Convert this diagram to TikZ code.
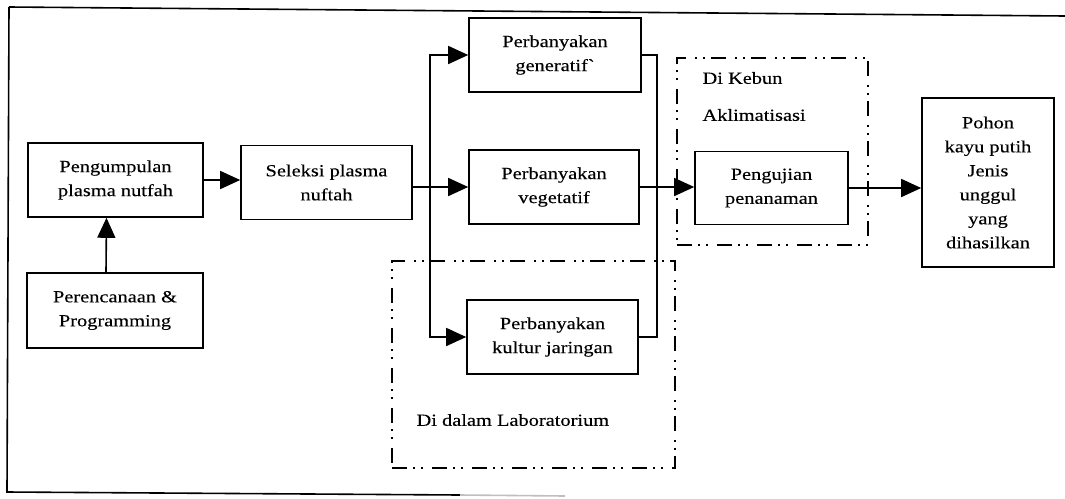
\documentclass[tikz,border=0pt]{standalone}
\usepackage{fontspec}
\setmainfont[FakeStretch=1.2,FakeBold=0.25,Ligatures=TeXOff]{Liberation Serif}
\usetikzlibrary{arrows.meta,calc}
\begin{document}
\begin{tikzpicture}[x=1pt,y=-1pt,
  every node/.style={font=\fontsize{17}{24}\selectfont},
  box/.style={draw,line width=1.6pt,align=center,inner sep=0pt},
  grp/.style={draw,line width=1.5pt,inner sep=0pt,
    dash pattern=on 15pt off 6pt on 2pt off 6pt on 2pt off 9pt},
  arr/.style={line width=1.6pt,-{Triangle[length=20pt,width=18pt]}},
  link/.style={line width=1.6pt},
  frame/.style={line width=1.6pt}]
\useasboundingbox (0,0) rectangle (1065,498);

% outer frame
\draw[frame] (9,7) -- (1065,16);
\draw[frame] (9,7) -- (7,492) -- (460,495);
\draw[frame,black!25] (460,495) -- (565,496);

% grouping frames
\node[grp,minimum width=283pt,minimum height=207pt] (lab) at (533.5,364.5) {};
\node[grp,minimum width=191pt,minimum height=187pt] (kebun) at (772.5,151.5) {};
\node[anchor=west] (labtxt) at (413,420) {Di dalam Laboratorium};
\node[anchor=west] (kebtxt1) at (699,78) {Di Kebun};
\node[anchor=west] (kebtxt2) at (699,115) {Aklimatisasi};

% process boxes
\node[box,minimum width=175pt,minimum height=74pt] (peng) at (115.5,180) {Pengumpulan\\plasma nutfah};
\node[box,minimum width=176pt,minimum height=75pt] (peren) at (115,310.5) {Perencanaan \&\\Programming};
\node[box,minimum width=171pt,minimum height=74pt] (sel) at (326.5,182.5) {Seleksi plasma\\nuftah};
\node[box,minimum width=172pt,minimum height=74pt] (gen) at (555,55) {Perbanyakan\\generatif`};
\node[box,minimum width=170pt,minimum height=74pt] (veg) at (554,187) {Perbanyakan\\vegetatif};
\node[box,minimum width=171pt,minimum height=74pt] (kul) at (552.5,337) {Perbanyakan\\kultur jaringan};
\node[box,minimum width=153pt,minimum height=73pt] (penguj) at (771.5,188) {Pengujian\\penanaman};
\node[box,minimum width=132pt,minimum height=169pt] (pohon) at (988,182.5) {Pohon\\kayu putih\\Jenis\\unggul\\yang\\dihasilkan};

% junction points
\coordinate (br) at (430,187);
\coordinate (jn) at (657,187);

% connectors
\draw[arr] ([xshift=-9pt]peren.north) -- ([xshift=-9pt]peng.south);
\draw[arr] (peng.east) -- (peng.east -| sel.west);
\draw[arr] (veg.west -| sel.east) -- (veg.west);
\draw[arr] (br) |- (gen.west);
\draw[arr] (br) |- (kul.west);
\draw[link] (gen.east) -| (jn);
\draw[link] (kul.east) -| (jn);
\draw[arr] (veg.east) -- (veg.east -| penguj.west);
\draw[arr] (penguj.east) -- (penguj.east -| pohon.west);
\end{tikzpicture}
\end{document}
